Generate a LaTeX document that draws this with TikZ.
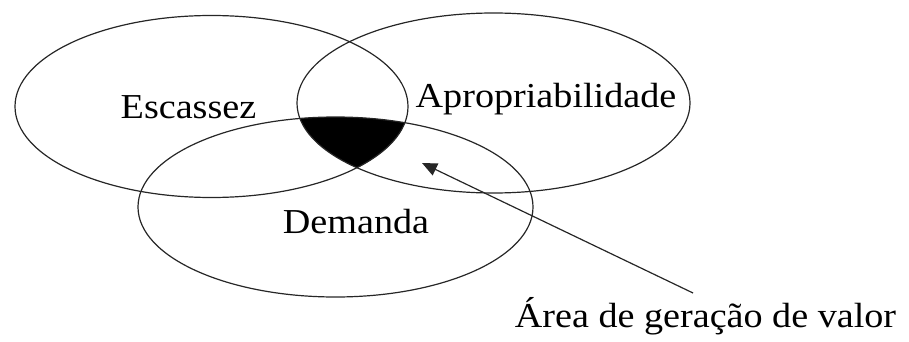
\documentclass[tikz,border=0pt]{standalone}
\usepackage{fontspec}
\setmainfont{Liberation Serif}
\usetikzlibrary{shapes.geometric,arrows.meta}
\begin{document}
\begin{tikzpicture}[x=1pt,y=-1pt,
  setshape/.style={draw=black!85,line width=1.2pt,ellipse,inner sep=0pt,minimum width=393pt,minimum height=182pt},
  lbl/.style={anchor=base,inner sep=0pt,font=\fontsize{35}{42}\selectfont},
  pointer/.style={draw=black!85,line width=1.2pt,-{Triangle[length=15pt,width=13pt]}}]
\useasboundingbox (0,0) rectangle (909,342);
% black intersection area
\begin{scope}
  \clip (211.5,106.5) ellipse [x radius=196.5, y radius=91.5];
  \clip (493.5,103) ellipse [x radius=196.5, y radius=90];
  \fill[black] (335.5,207) ellipse [x radius=197.5, y radius=90];
\end{scope}
\node[setshape] (esc) at (211.5,106.5) {};
\node[setshape,minimum height=180pt] (apr) at (493.5,103) {};
\node[setshape,minimum width=395pt,minimum height=180pt] (dem) at (335.5,207) {};
\node[lbl] (tesc) at (188.5,118) {\scalebox{1.09}[1]{Escassez}};
\node[lbl] (tapr) at (546,108) {\scalebox{1.09}[1]{Apropriabilidade}};
\node[lbl] (tdem) at (356,233) {\scalebox{1.09}[1]{Demanda}};
\node[lbl] (tarea) at (705.5,327) {\scalebox{1.09}[1]{Área de geração de valor}};
\coordinate (tail) at (693,293);
\coordinate (tip) at (422,163);
\draw[pointer] (tail) -- (tip);
\end{tikzpicture}
\end{document}
